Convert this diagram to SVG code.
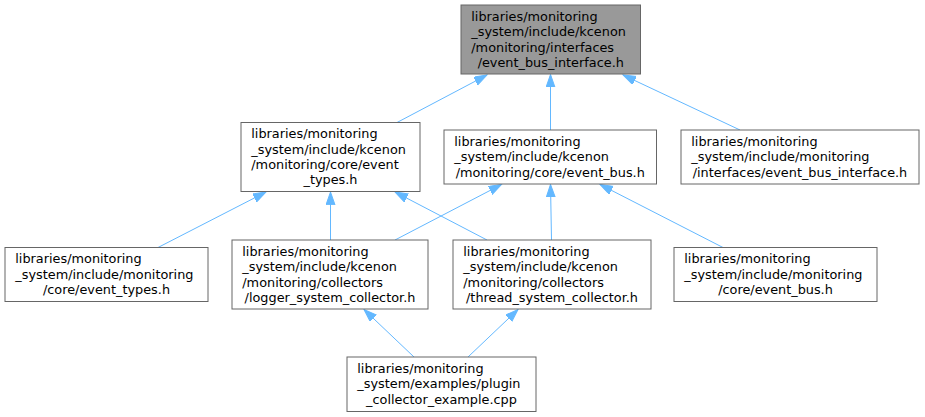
<svg xmlns="http://www.w3.org/2000/svg" width="925" height="417" viewBox="0 0 925 417">
<style>
.box{fill:#ffffff;stroke:#666666;stroke-width:1}
.root{fill:#999999;stroke:#666666;stroke-width:1}
text{font-family:"DejaVu Sans","Liberation Sans",sans-serif;font-size:12.85px;fill:#000000}
.s{text-anchor:start}
.m{text-anchor:middle}
.e{stroke:#63b8ff;stroke-width:1;fill:none;marker-end:url(#ah)}
</style>
<defs>
<marker id="ah" markerUnits="userSpaceOnUse" markerWidth="14" markerHeight="10" refX="12.85" refY="4.5" orient="auto" viewBox="0 0 14 10">
<path d="M0,0 L12.85,4.5 L0,9 z" fill="#63b8ff" stroke="#63b8ff" stroke-width="1"/>
</marker>
</defs>
<rect width="925" height="417" fill="#ffffff"/>
<g id="edges">
<line class="e" x1="397" y1="122.5" x2="487" y2="75"/>
<line class="e" x1="550.5" y1="130" x2="550.5" y2="74.5"/>
<line class="e" x1="740" y1="130" x2="623" y2="75"/>
<line class="e" x1="158" y1="247.5" x2="266" y2="192"/>
<line class="e" x1="330.5" y1="240" x2="330.5" y2="192"/>
<line class="e" x1="487" y1="240" x2="395" y2="192"/>
<line class="e" x1="395" y1="240" x2="501.5" y2="184.5"/>
<line class="e" x1="551.5" y1="240" x2="550.5" y2="184.5"/>
<line class="e" x1="723" y1="247.5" x2="600" y2="184.5"/>
<line class="e" x1="414" y1="357" x2="364" y2="309.5"/>
<line class="e" x1="468" y1="357" x2="518" y2="309.5"/>
</g>
<g id="n1">
<rect class="root" x="461" y="5" width="179.5" height="69"/>
<text class="s" x="471.3" y="20.7">libraries/monitoring</text>
<text class="s" x="471.3" y="36.1">_system/include/kcenon</text>
<text class="s" x="471.3" y="51.5">/monitoring/interfaces</text>
<text class="m" x="550.75" y="66.9">/event_bus_interface.h</text>
</g>
<g id="n2">
<rect class="box" x="241" y="122.5" width="179" height="69"/>
<text class="s" x="251.3" y="138.2">libraries/monitoring</text>
<text class="s" x="251.3" y="153.6">_system/include/kcenon</text>
<text class="s" x="251.3" y="169">/monitoring/core/event</text>
<text class="m" x="330.5" y="184.4">_types.h</text>
</g>
<g id="n3">
<rect class="box" x="444" y="130" width="212.5" height="54"/>
<text class="s" x="454.3" y="145.9">libraries/monitoring</text>
<text class="s" x="454.3" y="161.3">_system/include/kcenon</text>
<text class="m" x="550.25" y="176.7">/monitoring/core/event_bus.h</text>
</g>
<g id="n4">
<rect class="box" x="681" y="130" width="238" height="54"/>
<text class="s" x="691.3" y="145.9">libraries/monitoring</text>
<text class="s" x="691.3" y="161.3">_system/include/monitoring</text>
<text class="m" x="800" y="176.7">/interfaces/event_bus_interface.h</text>
</g>
<g id="n5">
<rect class="box" x="5" y="247.5" width="203" height="54"/>
<text class="s" x="15.3" y="263.4">libraries/monitoring</text>
<text class="s" x="15.3" y="278.8">_system/include/monitoring</text>
<text class="m" x="106.5" y="294.2">/core/event_types.h</text>
</g>
<g id="n6">
<rect class="box" x="232" y="240" width="196" height="69"/>
<text class="s" x="242.3" y="255.7">libraries/monitoring</text>
<text class="s" x="242.3" y="271.1">_system/include/kcenon</text>
<text class="s" x="242.3" y="286.5">/monitoring/collectors</text>
<text class="m" x="330" y="301.9">/logger_system_collector.h</text>
</g>
<g id="n7">
<rect class="box" x="453" y="240" width="198" height="69"/>
<text class="s" x="463.3" y="255.7">libraries/monitoring</text>
<text class="s" x="463.3" y="271.1">_system/include/kcenon</text>
<text class="s" x="463.3" y="286.5">/monitoring/collectors</text>
<text class="m" x="552" y="301.9">/thread_system_collector.h</text>
</g>
<g id="n8">
<rect class="box" x="674" y="247.5" width="203" height="54"/>
<text class="s" x="684.3" y="263.4">libraries/monitoring</text>
<text class="s" x="684.3" y="278.8">_system/include/monitoring</text>
<text class="m" x="775.5" y="294.2">/core/event_bus.h</text>
</g>
<g id="n9">
<rect class="box" x="347" y="357" width="189" height="54.5"/>
<text class="s" x="357.3" y="373">libraries/monitoring</text>
<text class="s" x="357.3" y="388.4">_system/examples/plugin</text>
<text class="m" x="441.5" y="403.8">_collector_example.cpp</text>
</g>
</svg>
